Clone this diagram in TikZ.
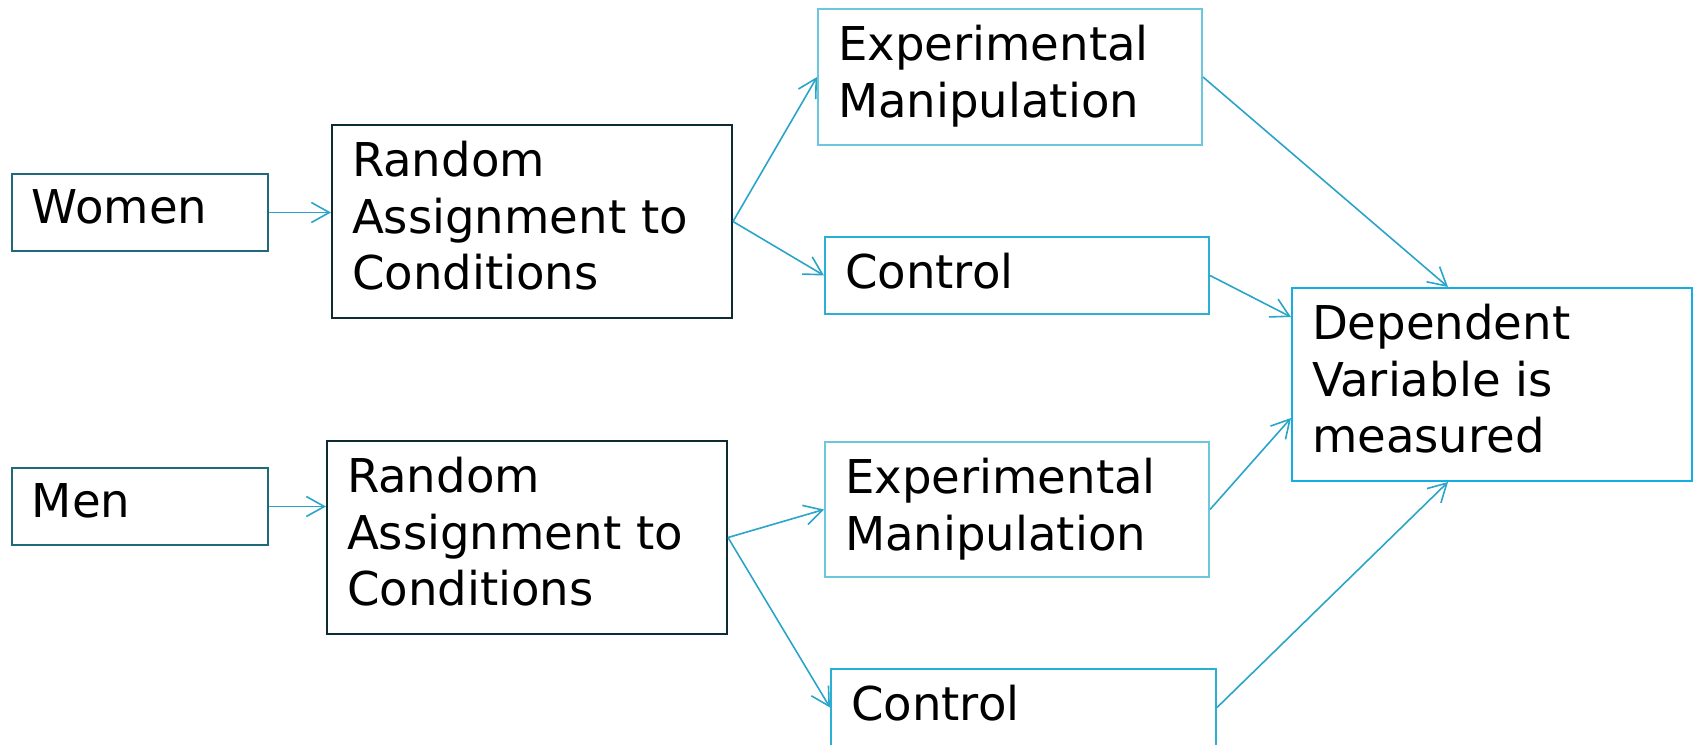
\documentclass[tikz,border=0pt]{standalone}
\usepackage{fontspec}
\setmainfont{DejaVu Sans}
\usetikzlibrary{arrows.meta,calc}

\definecolor{grpline}{HTML}{1F6A7A}
\definecolor{randline}{HTML}{0E2A33}
\definecolor{expline}{HTML}{6CC6DC}
\definecolor{ctrlline}{HTML}{2BAFD2}
\definecolor{dvline}{HTML}{14AEE3}
\definecolor{arrowline}{HTML}{2AA5C9}

% fixed size text area, top left aligned (sizes in pixels)
\newcommand{\boxtext}[3]{\parbox[t][\dimexpr0.5pt*#2-16pt\relax][t]{\dimexpr0.5pt*#1-20pt\relax}{\raggedright #3}}

\tikzset{
    cellbox/.style={draw, line width=1pt, text=black, anchor=north west, inner xsep=10pt, inner ysep=8pt,
        font=\fontsize{23.3pt}{28.35pt}\selectfont},
    link/.style={arrowline, line width=0.8pt, -{Straight Barb[length=9pt,width=10pt]}}
}

\begin{document}
\begin{tikzpicture}[x=0.5pt, y=-0.5pt]
    \useasboundingbox (0,0) rectangle (1696,744);

    % groups
    \node[cellbox, draw=grpline] (women) at (11,173) {\boxtext{256}{77}{Women}};
    \node[cellbox, draw=grpline] (men) at (11,467) {\boxtext{256}{77}{Men}};

    % random assignment
    \node[cellbox, draw=randline] (randw) at (331,124) {\boxtext{400}{193}{Random\\Assignment to\\Conditions}};
    \node[cellbox, draw=randline] (randm) at (326,440) {\boxtext{400}{193}{Random\\Assignment to\\Conditions}};

    % conditions
    \node[cellbox, draw=expline] (expw) at (817,8) {\boxtext{384}{136}{Experimental\\Manipulation}};
    \node[cellbox, draw=ctrlline] (ctrlw) at (824,236) {\boxtext{384}{77}{Control}};
    \node[cellbox, draw=expline] (expm) at (824,441) {\boxtext{384}{135}{Experimental\\Manipulation}};
    \node[cellbox, draw=ctrlline] (ctrlm) at (830,668) {\boxtext{385}{77}{Control}};

    % outcome
    \node[cellbox, draw=dvline] (dv) at (1291,287) {\boxtext{400}{193}{Dependent\\Variable is\\measured}};

    \draw[link] (women.east) -- (women.east -| randw.west);
    \draw[link] (men.east) -- (men.east -| randm.west);

    \draw[link] (randw.east) -- (expw.west);
    \draw[link] (randw.east) -- (ctrlw.west);
    \draw[link] (randm.east) -- (expm.west);
    \draw[link] (randm.east) -- (ctrlm.west);

    \draw[link] (expw.east) -- ($(dv.north west)+(157,0)$);
    \draw[link] (ctrlw.east) -- ($(dv.north west)+(0,30)$);
    \draw[link] (expm.east) -- ($(dv.north west)+(0,131)$);
    \draw[link] (ctrlm.east) -- ($(dv.south west)+(157,0)$);
\end{tikzpicture}
\end{document}
